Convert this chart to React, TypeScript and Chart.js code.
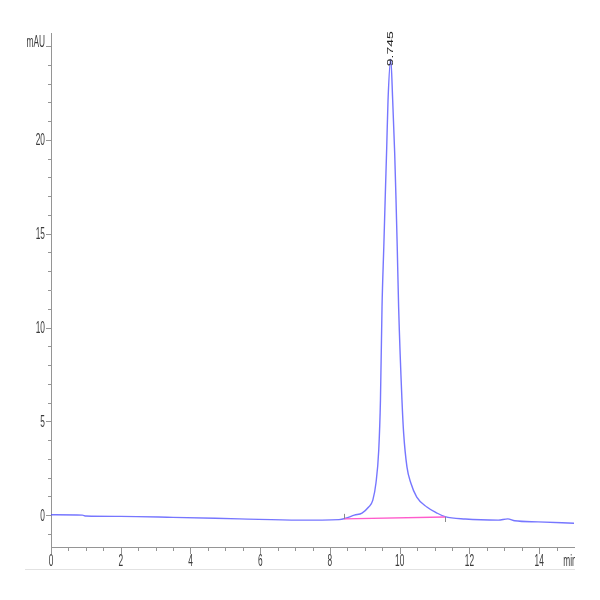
import React, { useEffect, useRef } from "react";
import { Chart, registerables } from "chart.js";

Chart.register(...registerables);

// Chromatogram trace (minutes, mAU)
const timeMin = [
  0, 0.9, 1.0, 2.0, 3.5, 5.4, 7.1, 8.26, 8.45, 8.7, 8.92, 9.11, 9.23, 9.32, 9.4,
  9.449, 9.494, 9.545, 9.59, 9.627, 9.666, 9.745, 9.8, 9.857, 9.894, 9.93, 9.97,
  10.066, 10.114, 10.21, 10.32, 10.49, 10.78, 11.07, 11.3, 11.88, 12.83, 13.1, 13.3,
  13.97, 15.0,
];
const signalMAU = [
  0.02, 0.0, -0.05, -0.07, -0.12, -0.2, -0.27, -0.24, -0.17, 0.0, 0.11, 0.43, 0.8,
  1.71, 3.47, 6.13, 11.1, 14.3, 17.2, 19.5, 22.1, 24.3, 22.1, 19.3, 16.9, 14.3, 11.1,
  6.13, 4.37, 2.56, 1.71, 0.96, 0.43, 0.11, -0.08, -0.21, -0.27, -0.2, -0.3, -0.36,
  -0.43,
];

// Integration baseline
const baselineTime = [8.4, 11.3];
const baselineMAU = [-0.2, -0.1];

// Peak annotation
const peakTime = [9.745];
const peakHeight = [24.3];
const peakLabels = ["9.745"];

// Axis ticks
const xMajorTicks = [0, 2, 4, 6, 8, 10, 12, 14];
const xMinorTicks = [
  0.5, 1, 1.5, 2.5, 3, 3.5, 4.5, 5, 5.5, 6.5, 7, 7.5, 8.5, 9, 9.5, 10.5, 11, 11.5,
  12.5, 13, 13.5, 14.5,
];
const xUnitValue = 15;
const xUnitLabel = "min";
const yMajorTicks = [0, 5, 10, 15, 20];
const yMinorTicks = [
  -1, 1, 2, 3, 4, 6, 7, 8, 9, 11, 12, 13, 14, 16, 17, 18, 19, 21, 22, 23, 24,
];
const yUnitValue = 25;
const yUnitLabel = "mAU";

const X_MIN = 0;
const X_MAX = 15;
const Y_MIN = -1.7;
const Y_MAX = 25.7;

const AXIS_COLOR = "#959595";
const LABEL_COLOR = "#3a3a3a";
const FONT = '16px "Liberation Sans", Arial, sans-serif';
const SQUASH = 0.52;

const decorPlugin = {
  id: "decor",
  afterDraw(chart: any) {
    const { ctx, chartArea } = chart;
    const x = chart.scales.x;
    const y = chart.scales.y;
    ctx.save();
    ctx.strokeStyle = AXIS_COLOR;
    ctx.lineWidth = 1;

    const yTick = (v: number, len: number) => {
      const py = Math.round(y.getPixelForValue(v)) + 0.5;
      ctx.beginPath();
      ctx.moveTo(chartArea.left - len, py);
      ctx.lineTo(chartArea.left, py);
      ctx.stroke();
    };
    const xTick = (v: number, len: number) => {
      const px = Math.round(x.getPixelForValue(v)) + 0.5;
      ctx.beginPath();
      ctx.moveTo(px, chartArea.bottom);
      ctx.lineTo(px, chartArea.bottom + len);
      ctx.stroke();
    };
    yMinorTicks.forEach((v) => yTick(v, 3));
    yMajorTicks.forEach((v) => yTick(v, 5));
    yTick(yUnitValue, 5);
    xMinorTicks.forEach((v) => xTick(v, 4));
    xMajorTicks.forEach((v) => xTick(v, 7));

    const squashText = (
      text: string,
      px: number,
      py: number,
      align: CanvasTextAlign,
      base: CanvasTextBaseline
    ) => {
      ctx.save();
      ctx.translate(px, py);
      ctx.scale(SQUASH, 1);
      ctx.textAlign = align;
      ctx.textBaseline = base;
      ctx.fillText(text, 0, 0);
      ctx.restore();
    };

    ctx.fillStyle = LABEL_COLOR;
    ctx.font = FONT;
    yMajorTicks.forEach((v) => {
      squashText(String(v), chartArea.left - 6, y.getPixelForValue(v) + 1, "right", "middle");
    });
    squashText(yUnitLabel, chartArea.left - 6, y.getPixelForValue(yUnitValue) - 4, "right", "middle");
    xMajorTicks.forEach((v) => {
      squashText(String(v), x.getPixelForValue(v), chartArea.bottom + 7, "center", "top");
    });
    ctx.save();
    ctx.beginPath();
    ctx.rect(0, 0, chartArea.right + 1, chart.height);
    ctx.clip();
    squashText(xUnitLabel, x.getPixelForValue(xUnitValue) - 4, chartArea.bottom + 7, "center", "top");
    ctx.restore();

    // Peak labels (rotated, reading bottom to top)
    ctx.font = '14px "Liberation Sans", Arial, sans-serif';
    ctx.fillStyle = "#222";
    peakTime.forEach((t, i) => {
      const px = x.getPixelForValue(t);
      const py = y.getPixelForValue(peakHeight[i]) + 7;
      ctx.save();
      ctx.translate(px, py);
      ctx.scale(0.62, 1);
      ctx.rotate(-Math.PI / 2);
      ctx.textAlign = "left";
      ctx.textBaseline = "middle";
      ctx.fillText(peakLabels[i], 0, 0);
      ctx.restore();
    });

    // Baseline start/end markers
    ctx.strokeStyle = "#8a8a8a";
    baselineTime.forEach((t, i) => {
      const px = Math.round(x.getPixelForValue(t)) + 0.5;
      const py = y.getPixelForValue(baselineMAU[i]);
      ctx.beginPath();
      if (i === 0) {
        ctx.moveTo(px, py - 5);
        ctx.lineTo(px, py);
      } else {
        ctx.moveTo(px, py);
        ctx.lineTo(px, py + 5);
      }
      ctx.stroke();
    });

    // faint frame line under the axis labels
    ctx.strokeStyle = "#e2e2e2";
    ctx.beginPath();
    ctx.moveTo(25, chartArea.bottom + 22.5);
    ctx.lineTo(chartArea.right + 1, chartArea.bottom + 22.5);
    ctx.stroke();

    ctx.restore();
  },
};

export default function App() {
  const canvasRef = useRef<HTMLCanvasElement | null>(null);

  useEffect(() => {
    if (!canvasRef.current) return;
    const trace = timeMin.map((t, i) => ({ x: t, y: signalMAU[i] }));
    const baseline = baselineTime.map((t, i) => ({ x: t, y: baselineMAU[i] }));
    const chart = new Chart(canvasRef.current, {
      type: "line",
      data: {
        datasets: [
          {
            data: baseline,
            borderColor: "#ff5ccc",
            borderWidth: 1.4,
            pointRadius: 0,
            fill: false,
          },
          {
            data: trace,
            borderColor: "rgba(80,80,255,0.78)",
            borderWidth: 1.4,
            pointRadius: 0,
            fill: false,
            cubicInterpolationMode: "monotone",
          },
        ],
      },
      options: {
        animation: false,
        responsive: false,
        devicePixelRatio: 1,
        layout: { padding: { left: 0, top: 33, right: 26, bottom: 0 } },
        plugins: {
          legend: { display: false },
          tooltip: { enabled: false },
        },
        scales: {
          x: {
            type: "linear",
            min: X_MIN,
            max: X_MAX,
            ticks: { display: false },
            grid: { display: false },
            border: { display: true, color: AXIS_COLOR, width: 1 },
            afterFit: (s: any) => {
              s.height = 53;
              s.paddingLeft = 0;
              s.paddingRight = 0;
            },
          },
          y: {
            type: "linear",
            min: Y_MIN,
            max: Y_MAX,
            ticks: { display: false },
            grid: { display: false },
            border: { display: true, color: AXIS_COLOR, width: 1 },
            afterFit: (s: any) => {
              s.width = 51;
              s.paddingTop = 0;
              s.paddingBottom = 0;
            },
          },
        },
      },
      plugins: [decorPlugin],
    });
    return () => chart.destroy();
  }, []);

  return (
    <div style={{ position: "absolute", left: 0, top: 0, width: 600, height: 600, background: "#fff" }}>
      <canvas ref={canvasRef} width={600} height={600} style={{ width: 600, height: 600 }} />
    </div>
  );
}
